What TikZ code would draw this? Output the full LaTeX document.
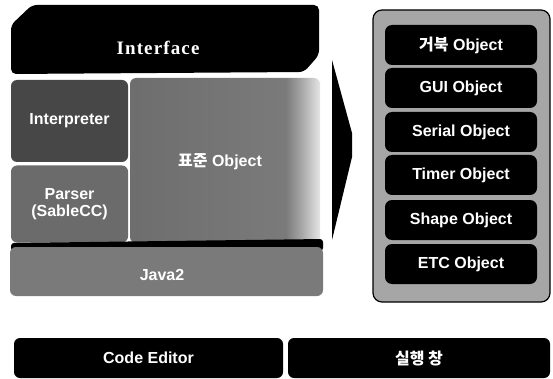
\documentclass[tikz,border=0pt]{standalone}
\usepackage{fontspec}
\setmainfont{Liberation Sans}
\newfontfamily\krfont{Noto Sans CJK KR}
\newfontfamily\ifacefont{Liberation Serif}[LetterSpace=6]
\usepackage{tikz}
\usetikzlibrary{shapes, calc, positioning}
\pgfdeclarehorizontalshading{stdshade}{100bp}{color(0bp)=(black!57); color(25bp)=(black!57); color(66bp)=(black!52); color(70bp)=(black!35); color(75bp)=(black!10); color(100bp)=(black!10)}

\begin{document}
\begin{tikzpicture}[x=1pt, y=-1pt,
    every node/.style={inner sep=0pt, outer sep=0pt, text=white, font=\fontsize{16}{18}\selectfont\bfseries},
    layer/.style={rounded corners=6pt, minimum width=#1},
    objbox/.style={fill=black, rounded corners=7pt, minimum width=152pt, minimum height=40pt},
    barbox/.style={fill=black, rounded corners=6pt, minimum height=40pt, minimum width=#1}]
                    \useasboundingbox (0,0) rectangle (553,379);
                    % left stack
                    \fill[black, rounded corners=5pt] (11,74) -- (11,25) -- (32,5) -- (319,5) -- (319,55) -- (304,72) -- cycle;
                    \node (iface) at (158,48) {\fontsize{19}{21}\ifacefont\bfseries Interface};
                    \node[layer=117pt, fill=black!72, minimum height=82pt] (interp) at (69.5,121) {Interpreter};
                    \node[layer=117pt, fill=black!58, minimum height=77pt, align=center] (parser) at (69.5,204) {Parser\\[-1pt](SableCC)};
                    \node[layer=190pt, shading=stdshade, minimum height=165pt] (stdobj) at (225,160.5) {};
                    \node (stdlbl) at (220,162) {{\krfont 표준} Object};
                    \fill[black, rounded corners=3pt] (11,251) -- (11,243) -- (323,239) -- (323,251) -- cycle;
                    \node[layer=313pt, fill=black!52, minimum height=49pt] (java) at (166.5,271.5) {};
                    \node (javalbl) at (162,275) {Java2};
                    % arrow
                    \fill[black] (332,60) -- (352,133) -- (352,157) -- (332,240) -- cycle;
                    % object panel
                    \node[draw=black, very thick, fill=black!35, rounded corners=9pt, minimum width=177pt, minimum height=292pt] (objpanel) at (461.5,156) {};
                    \node[objbox] (turtle) at (461,45) {{\krfont 거북} Object};
                    \node[objbox] (gui) at (461,88) {GUI Object};
                    \node[objbox] (serial) at (461,132) {Serial Object};
                    \node[objbox] (timer) at (461,175) {Timer Object};
                    \node[objbox] (shape) at (461,220) {Shape Object};
                    \node[objbox] (etc) at (461,264) {ETC Object};
                    % bottom bars
                    \node[barbox=269pt] (editor) at (148.5,358) {Code Editor};
                    \node[barbox=262pt] (runwin) at (419,358) {\krfont 실행 창};
                \end{tikzpicture}
\end{document}
